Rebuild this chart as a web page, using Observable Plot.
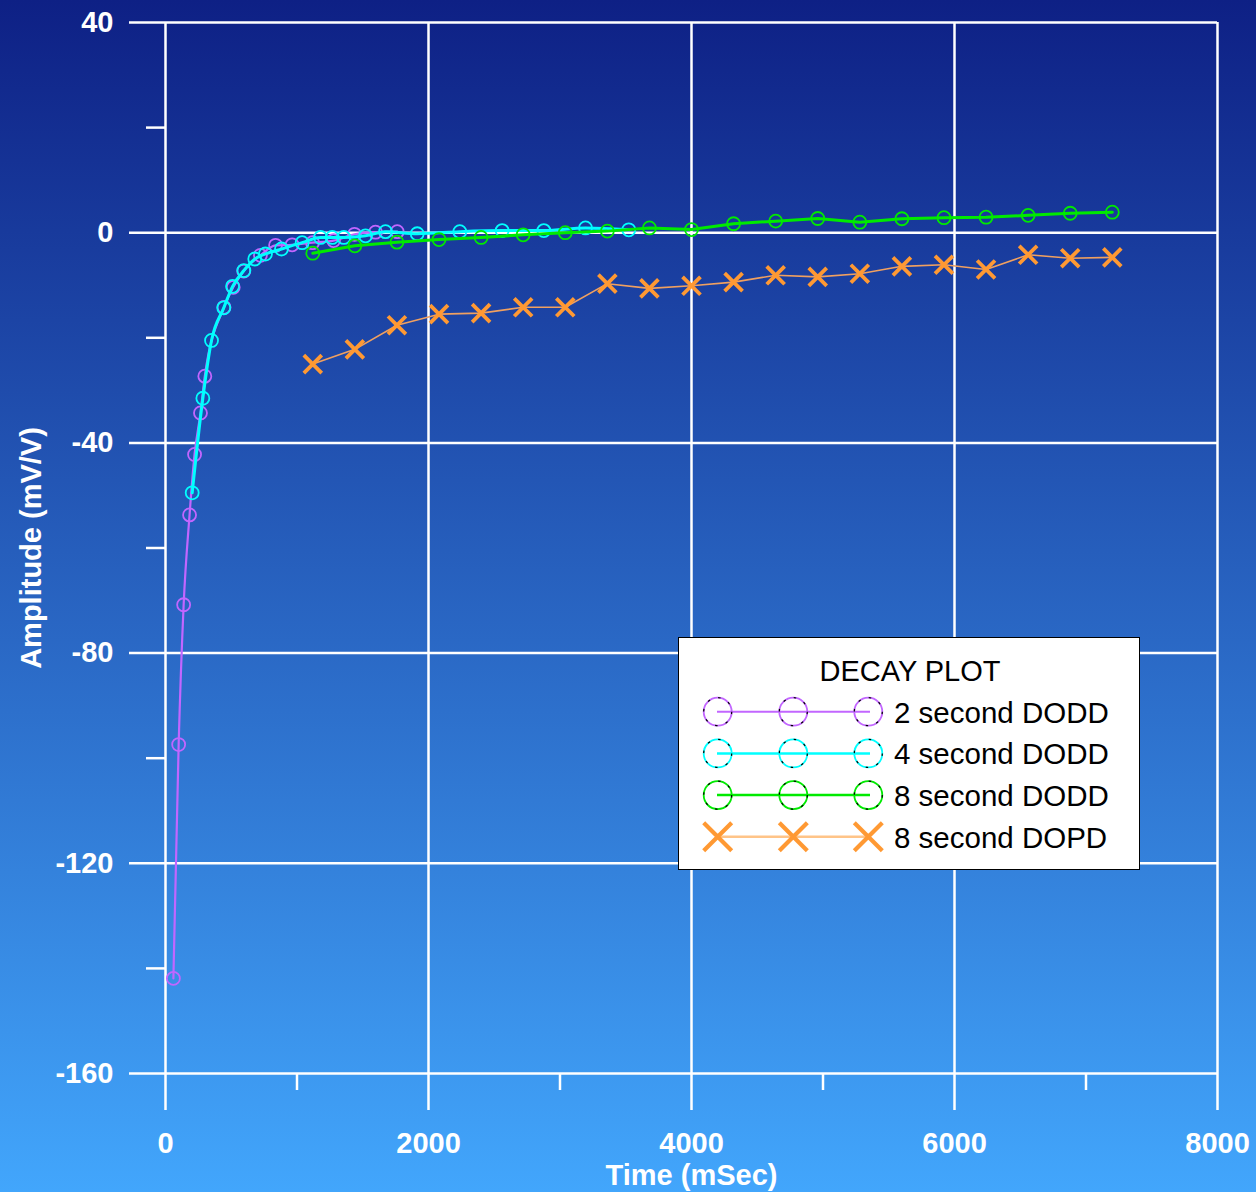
<!DOCTYPE html>
<html><head><meta charset="utf-8">
<script src="https://cdn.jsdelivr.net/npm/d3@7"></script>
<script src="https://cdn.jsdelivr.net/npm/@observablehq/plot@0.6"></script>
<style>
html,body{margin:0;padding:0;}
#wrap{position:relative;width:1256px;height:1192px;background:linear-gradient(to bottom,#0e2085 0%,#42a6fc 100%);overflow:hidden;font-family:"Liberation Sans",Arial,sans-serif;}
#wrap svg{display:block;}
#legend{position:absolute;left:678px;top:637px;width:462px;height:233px;box-sizing:border-box;background:#fff;border:1px solid #000;}
</style></head><body><div id="wrap"><div id="legend"></div></div>
<script>
// ---- data ----
const t2 = [60, 100, 138, 183, 221, 266, 299, 445, 515, 595, 722, 837, 963, 1118, 1278, 1437, 1597, 1762];
const v2 = [-141.9, -97.4, -70.8, -53.7, -42.2, -34.3, -27.3, -14.2, -10.4, -7.3, -4.3, -2.4, -2.3, -1.9, -1.5, -0.3, 0.1, 0.2];

const t4 = [203, 284, 350, 443, 510, 596, 679, 760, 882, 1039, 1179, 1268, 1356, 1521, 1673, 1914, 2238, 2560, 2877, 3194, 3523];
const v4 = [-49.5, -31.5, -20.5, -14.3, -10.2, -7.2, -5.0, -4.05, -3.1, -1.9, -0.9, -0.9, -0.9, -0.6, 0.2, -0.2, 0.2, 0.4, 0.4, 0.9, 0.55];

const t8 = [1120, 1440, 1760, 2080, 2400, 2720, 3040, 3360, 3680, 4000, 4320, 4640, 4960, 5280, 5600, 5920, 6240, 6560, 6880, 7200];
const v8dodd = [-3.9, -2.5, -1.8, -1.3, -0.9, -0.4, 0.0, 0.3, 0.9, 0.6, 1.7, 2.2, 2.7, 2.0, 2.65, 2.85, 2.95, 3.3, 3.7, 3.9];
const v8dopd = [-25.0, -22.2, -17.6, -15.5, -15.3, -14.2, -14.2, -9.7, -10.6, -10.1, -9.4, -8.1, -8.4, -7.8, -6.4, -6.1, -7.0, -4.2, -4.85, -4.7];

const seriesNames = ["2 second DODD", "4 second DODD", "8 second DODD", "8 second DOPD"];
const seriesColors = ["#c266ff", "#00ffff", "#00ea00", "#ff9933"];
const lineColors = ["#c266ff", "#00ffff", "#00ea00", "#f0a060"];
const legendLineColors = ["#c266ff", "#00ffff", "#00ea00", "#ffc488"];

const xMajor = [0, 2000, 4000, 6000, 8000];
const xMinor = [1000, 3000, 5000, 7000];
const yMajor = [40, 0, -40, -80, -120, -160];
const yMinor = [20, -20, -60, -100, -140];

// ---- tables ----
const toRows = (ts, vs) => ts.map((t, i) => ({t, v: vs[i]}));
const r2 = toRows(t2, v2), r4 = toRows(t4, v4), r8 = toRows(t8, v8dodd), r8p = toRows(t8, v8dopd);

const fontFam = "Liberation Sans, Arial, sans-serif";
const txt = {fontSize: 29, fontWeight: "bold", fill: "#fff"};

const chart = Plot.plot({
  width: 1256, height: 1192,
  marginLeft: 165, marginRight: 39, marginTop: 22, marginBottom: 119,
  x: {domain: [0, 8000]},
  y: {domain: [-160, 40]},
  style: {background: "transparent", fontFamily: fontFam, color: "#fff", overflow: "visible"},
  marks: [
    Plot.ruleX(xMajor, {stroke: "#fff", strokeWidth: 2.5}),
    Plot.ruleY(yMajor, {stroke: "#fff", strokeWidth: 2.5}),
    Plot.axisY({ticks: yMajor, tickSize: 36, tickPadding: 16, tickFormat: d => String(d), label: null, stroke: "#fff", strokeWidth: 2.5, strokeOpacity: 1, ...txt}),
    Plot.axisY({ticks: yMinor, tickSize: 19, tickFormat: () => "", label: null, stroke: "#fff", strokeWidth: 2.5, strokeOpacity: 1}),
    Plot.axisX({ticks: xMajor, tickSize: 37, tickPadding: 22, tickFormat: d => String(d), label: null, stroke: "#fff", strokeWidth: 2.5, strokeOpacity: 1, ...txt}),
    Plot.axisX({ticks: xMinor, tickSize: 17, tickFormat: () => "", label: null, stroke: "#fff", strokeWidth: 2.5, strokeOpacity: 1}),

    Plot.line(r2, {x: "t", y: "v", stroke: lineColors[0], strokeWidth: 2.2, curve: "monotone-x"}),
    Plot.dot(r2, {x: "t", y: "v", r: 6.5, stroke: seriesColors[0], strokeWidth: 1.8, fill: "none"}),
    Plot.line(r4, {x: "t", y: "v", stroke: lineColors[1], strokeWidth: 3, curve: "monotone-x"}),
    Plot.dot(r4, {x: "t", y: "v", r: 6.5, stroke: seriesColors[1], strokeWidth: 1.8, fill: "none"}),
    Plot.line(r8, {x: "t", y: "v", stroke: lineColors[2], strokeWidth: 3}),
    Plot.dot(r8, {x: "t", y: "v", r: 6.5, stroke: seriesColors[2], strokeWidth: 1.8, fill: "none"}),
    Plot.line(r8p, {x: "t", y: "v", stroke: lineColors[3], strokeWidth: 1.6}),
    Plot.dot(r8p, {x: "t", y: "v", symbol: "times", r: 8.2, stroke: seriesColors[3], strokeWidth: 3.8}),

    Plot.text(["Time (mSec)"], {text: d => d, frameAnchor: "bottom", dy: 111, lineAnchor: "bottom", ...txt}),
    Plot.text(["Amplitude (mV/V)"], {text: d => d, frameAnchor: "left", dx: -125, rotate: -90, textAnchor: "middle", lineAnchor: "bottom", ...txt})
  ]
});
document.getElementById("wrap").insertBefore(chart, document.getElementById("legend"));

// ---- legend ----
const lg = d3.select("#legend").append("svg").attr("width", 460).attr("height", 231)
  .style("font-family", fontFam);
lg.append("text").attr("x", 231).attr("y", 42.7).attr("text-anchor", "middle")
  .attr("font-size", 29).attr("fill", "#000").text("DECAY PLOT");
const mx = [38.7, 114.3, 189.3];
seriesNames.forEach((name, i) => {
  const cy = 73.7 + i * 41.7;
  const g = lg.append("g");
  g.append("line").attr("x1", 38).attr("x2", 191).attr("y1", cy).attr("y2", cy)
    .attr("stroke", legendLineColors[i]).attr("stroke-width", i === 0 ? 2 : 2.5);
  mx.forEach(x => {
    if (i < 3) {
      g.append("circle").attr("cx", x).attr("cy", cy).attr("r", 14).attr("fill", "none")
        .attr("stroke", seriesColors[i]).attr("stroke-width", 1.8);
      g.append("circle").attr("cx", x).attr("cy", cy).attr("r", 14).attr("fill", "none")
        .attr("stroke", "#000").attr("stroke-width", 1.2).attr("stroke-dasharray", "2.5 8.5");
    } else {
      const h = 14;
      g.append("path").attr("d", `M${x - h},${cy - h}L${x + h},${cy + h}M${x - h},${cy + h}L${x + h},${cy - h}`)
        .attr("stroke", seriesColors[i]).attr("stroke-width", 4.2).attr("fill", "none");
    }
  });
  g.append("text").attr("x", 215).attr("y", cy + 11).attr("font-size", 29.5).attr("fill", "#000").text(name);
});
</script>
</body></html>
